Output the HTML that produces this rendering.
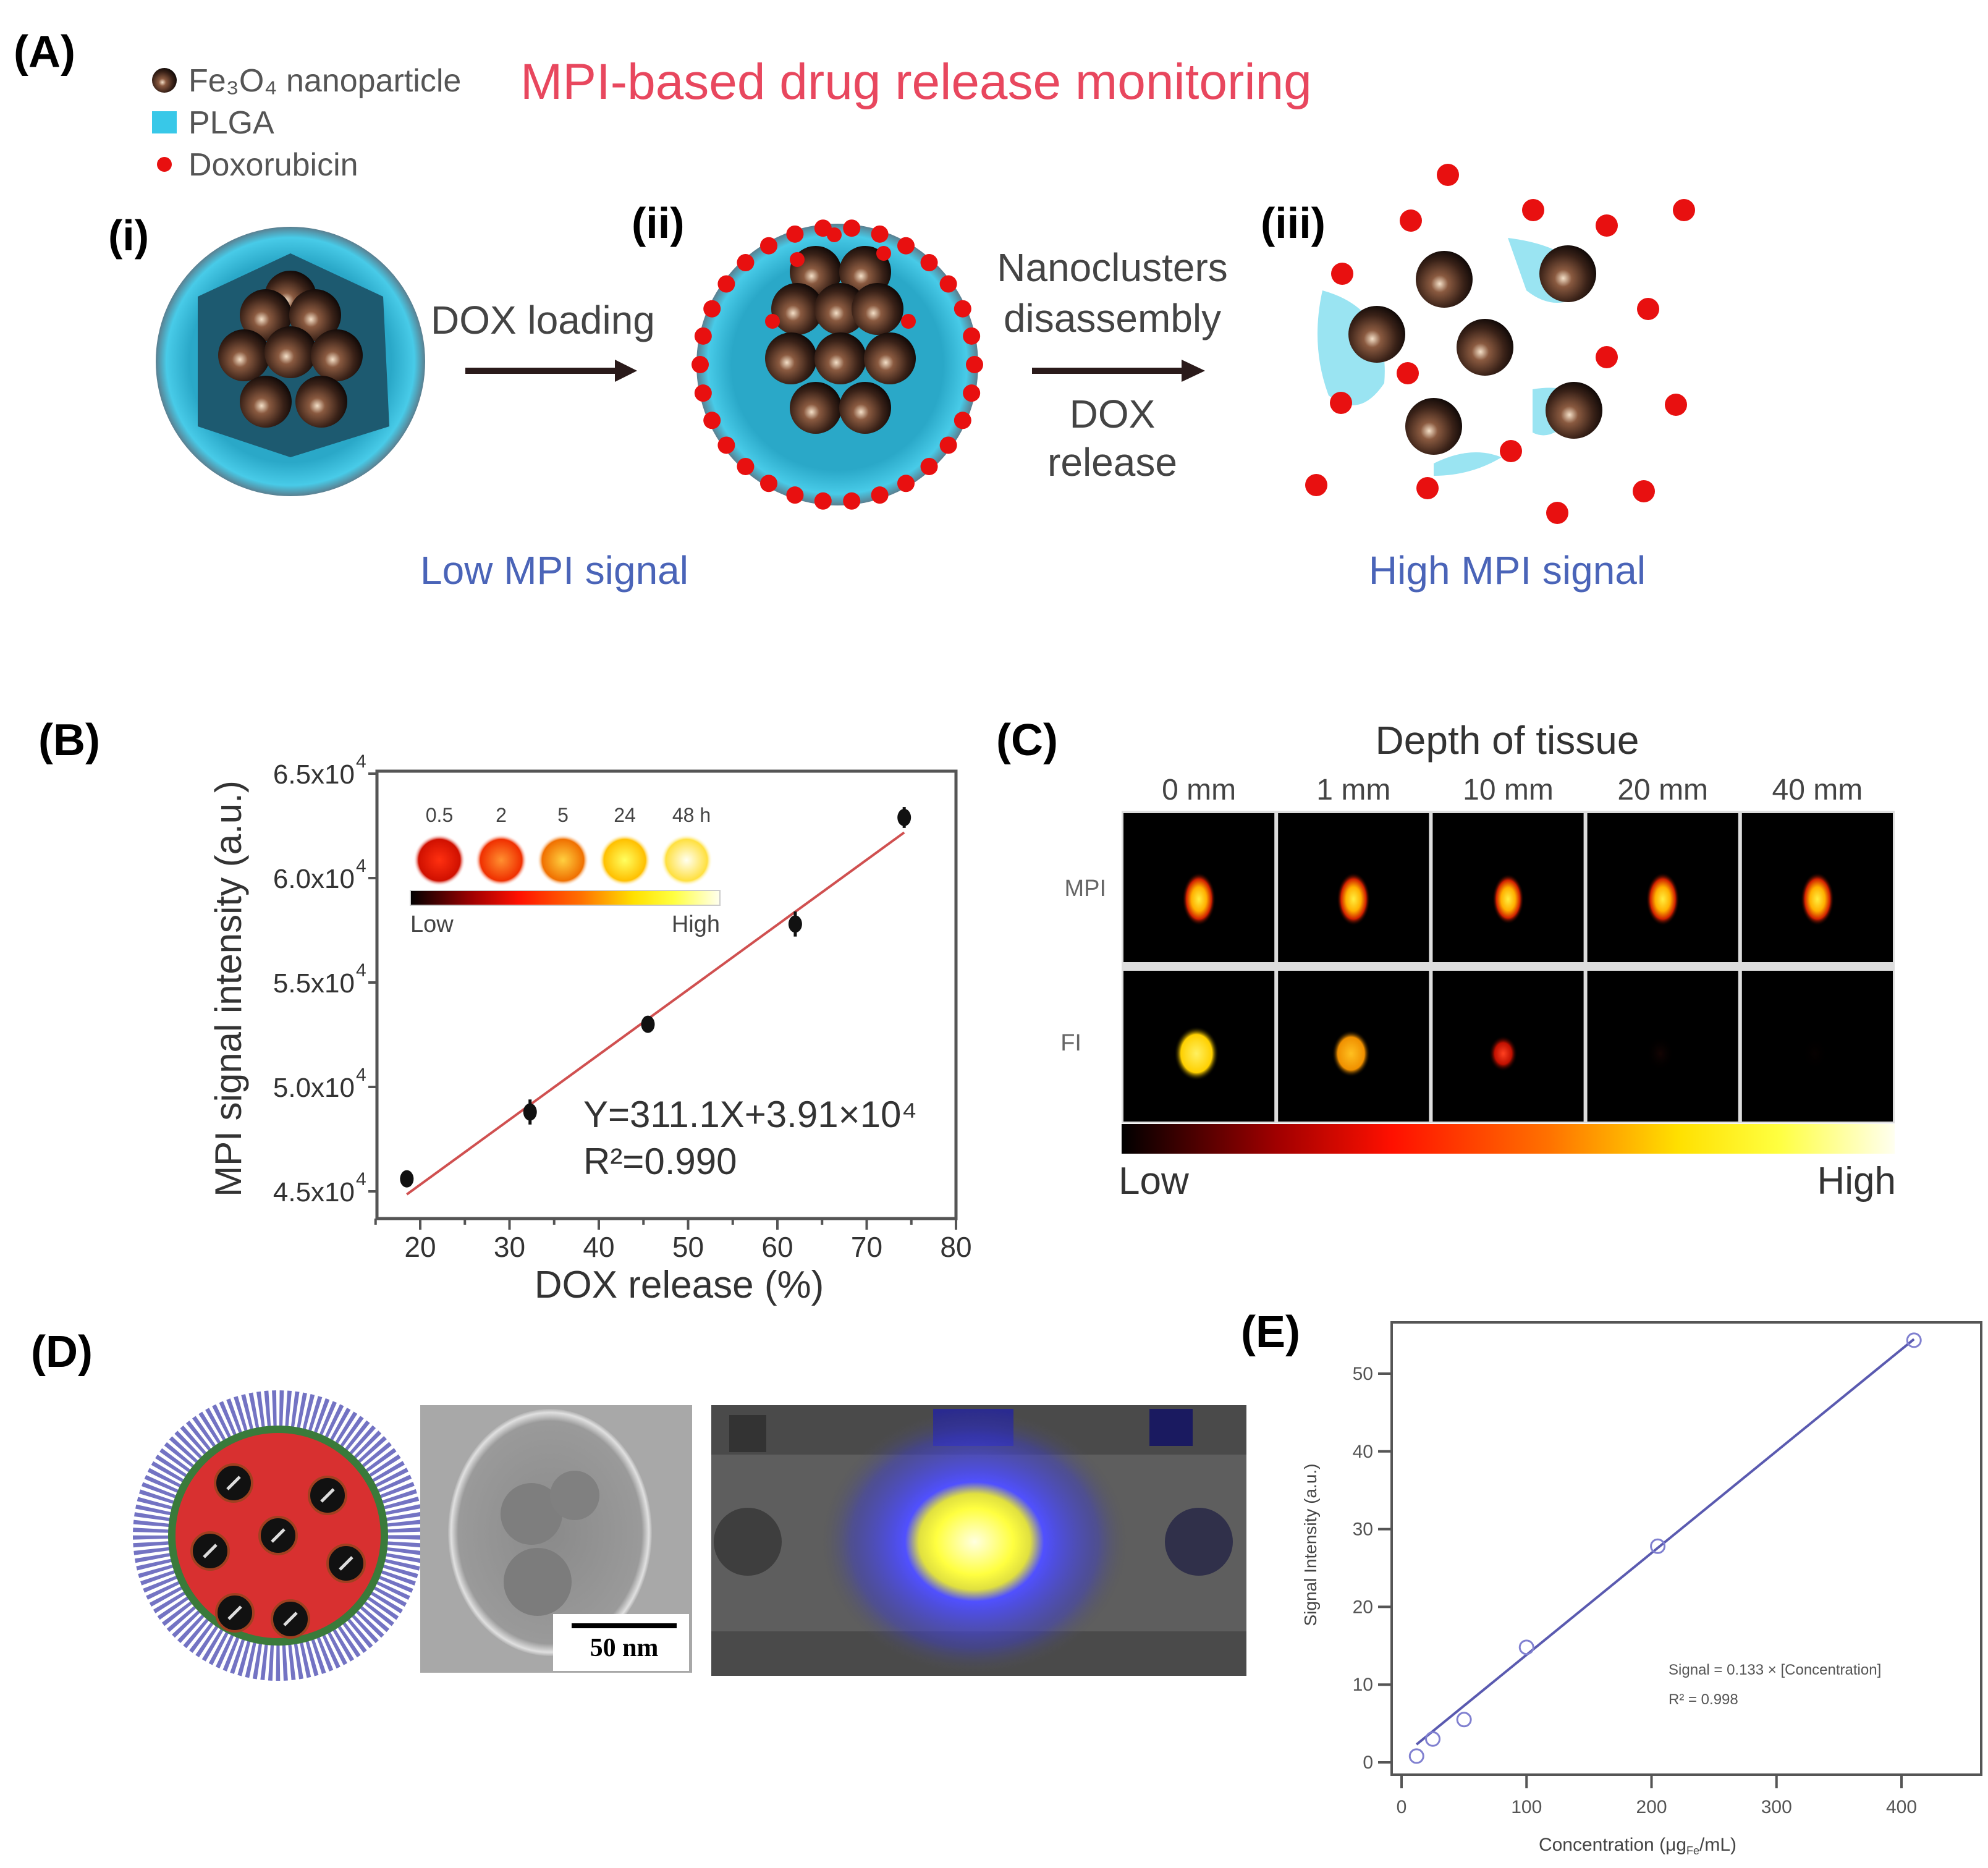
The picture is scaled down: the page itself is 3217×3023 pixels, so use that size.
<!DOCTYPE html>
<html><head><meta charset="utf-8"><style>
html,body{margin:0;padding:0;background:#fff;}
svg{display:block;font-family:"Liberation Sans",sans-serif;}
</style></head><body>
<svg id="fig" width="3217" height="3023" viewBox="0 0 3217 3023" xmlns="http://www.w3.org/2000/svg">
<defs>
<radialGradient id="ball" cx="0.42" cy="0.58" r="0.6"><stop offset="0" stop-color="#f4e0c8"/><stop offset="0.25" stop-color="#8a5a40"/><stop offset="0.7" stop-color="#3a2218"/><stop offset="1" stop-color="#120a08"/></radialGradient>
<radialGradient id="shell" cx="0.5" cy="0.5" r="0.5"><stop offset="0.75" stop-color="#2aa8c8"/><stop offset="0.92" stop-color="#48cbe8"/><stop offset="1" stop-color="#5a7f90"/></radialGradient>
<radialGradient id="spotMPI" cx="0.5" cy="0.5" r="0.5"><stop offset="0" stop-color="#ffee40"/><stop offset="0.45" stop-color="#ffb000"/><stop offset="0.75" stop-color="#d02000"/><stop offset="1" stop-color="#000" stop-opacity="0"/></radialGradient>
<radialGradient id="spotY" cx="0.5" cy="0.5" r="0.5"><stop offset="0" stop-color="#fff060"/><stop offset="0.7" stop-color="#ffd000"/><stop offset="1" stop-color="#000" stop-opacity="0"/></radialGradient>
<radialGradient id="spotO" cx="0.5" cy="0.5" r="0.5"><stop offset="0" stop-color="#ffc020"/><stop offset="0.7" stop-color="#f09000"/><stop offset="1" stop-color="#000" stop-opacity="0"/></radialGradient>
<radialGradient id="spotR" cx="0.5" cy="0.5" r="0.5"><stop offset="0" stop-color="#ff4020"/><stop offset="0.6" stop-color="#c01000"/><stop offset="1" stop-color="#000" stop-opacity="0"/></radialGradient>
<radialGradient id="spotD" cx="0.5" cy="0.5" r="0.5"><stop offset="0" stop-color="#3a0c08"/><stop offset="1" stop-color="#000" stop-opacity="0"/></radialGradient>
<linearGradient id="heat" x1="0" x2="1"><stop offset="0" stop-color="#000"/><stop offset="0.2" stop-color="#a00000"/><stop offset="0.35" stop-color="#ff1000"/><stop offset="0.55" stop-color="#ff7000"/><stop offset="0.72" stop-color="#ffe000"/><stop offset="0.85" stop-color="#ffff40"/><stop offset="1" stop-color="#fffff0"/></linearGradient>
<radialGradient id="c1" cx="0.5" cy="0.5" r="0.5"><stop offset="0" stop-color="#ff3010"/><stop offset="0.8" stop-color="#d01000"/><stop offset="1" stop-color="#fff" stop-opacity="0"/></radialGradient>
<radialGradient id="c2" cx="0.5" cy="0.5" r="0.5"><stop offset="0" stop-color="#ff9030"/><stop offset="0.8" stop-color="#f03000"/><stop offset="1" stop-color="#fff" stop-opacity="0"/></radialGradient>
<radialGradient id="c3" cx="0.5" cy="0.5" r="0.5"><stop offset="0" stop-color="#ffd040"/><stop offset="0.8" stop-color="#f07000"/><stop offset="1" stop-color="#fff" stop-opacity="0"/></radialGradient>
<radialGradient id="c4" cx="0.5" cy="0.5" r="0.5"><stop offset="0" stop-color="#ffff60"/><stop offset="0.8" stop-color="#ffc000"/><stop offset="1" stop-color="#fff" stop-opacity="0"/></radialGradient>
<radialGradient id="c5" cx="0.5" cy="0.5" r="0.5"><stop offset="0" stop-color="#fffff0"/><stop offset="0.8" stop-color="#ffe040"/><stop offset="1" stop-color="#fff" stop-opacity="0"/></radialGradient>
<radialGradient id="glow" cx="0.5" cy="0.5" r="0.5"><stop offset="0" stop-color="#ffffe0"/><stop offset="0.25" stop-color="#ffff40"/><stop offset="0.36" stop-color="#e0e040"/><stop offset="0.45" stop-color="#5050ff"/><stop offset="0.8" stop-color="#4040c0" stop-opacity="0.5"/><stop offset="1" stop-color="#555" stop-opacity="0"/></radialGradient>
<radialGradient id="tem" cx="0.5" cy="0.5" r="0.5"><stop offset="0" stop-color="#8a8a8a"/><stop offset="0.9" stop-color="#9a9a9a"/><stop offset="0.97" stop-color="#e0e0e0"/><stop offset="1" stop-color="#b0b0b0"/></radialGradient>
</defs>

<!-- Panel A -->
<g>
<text x="22" y="108" font-size="72" font-weight="bold">(A)</text>
<circle cx="266" cy="130" r="20" fill="url(#ball)"/>
<text x="305" y="148" font-size="52" fill="#555">Fe₃O₄ nanoparticle</text>
<rect x="246" y="180" width="40" height="36" fill="#38c8e8"/>
<text x="305" y="216" font-size="52" fill="#555">PLGA</text>
<circle cx="266" cy="266" r="12" fill="#e81010"/>
<text x="305" y="284" font-size="52" fill="#555">Doxorubicin</text>
<text x="842" y="160" font-size="82" fill="#e8475e">MPI-based drug release monitoring</text>
<text x="175" y="405" font-size="70" font-weight="bold">(i)</text>
<text x="1022" y="385" font-size="70" font-weight="bold">(ii)</text>
<text x="2040" y="385" font-size="70" font-weight="bold">(iii)</text>
<g>
<circle cx="470" cy="585" r="218" fill="url(#shell)"/>
<path d="M470 410 L620 480 L630 690 L470 740 L320 690 L320 480 Z" fill="#1d5a70"/>
<g id="ballsI"></g>
</g>
<text x="697" y="540" font-size="64" fill="#444">DOX loading</text>
<g><line x1="753" y1="600" x2="1000" y2="600" stroke="#2a1a1a" stroke-width="10"/><polygon points="995,582 1031,600 995,618" fill="#2a1a1a"/></g>
<g>
<circle cx="1355" cy="590" r="228" fill="url(#shell)"/>
<g id="ballsII"></g><g id="doxII"></g>
</g>
<g font-size="64" fill="#444" text-anchor="middle">
<text x="1800" y="455">Nanoclusters</text>
<text x="1800" y="537">disassembly</text>
<text x="1800" y="692">DOX</text>
<text x="1800" y="770">release</text>
</g>
<g><line x1="1670" y1="600" x2="1915" y2="600" stroke="#2a1a1a" stroke-width="10"/><polygon points="1912,582 1950,600 1912,618" fill="#2a1a1a"/></g>
<g id="stateIII">
<path d="M2140 470 Q2250 500 2240 620 Q2200 680 2150 640 Q2120 560 2140 470Z" fill="#9ae4f2"/>
<path d="M2440 385 Q2560 400 2570 470 Q2520 510 2470 470Z" fill="#9ae4f2"/>
<path d="M2480 630 Q2540 620 2560 650 Q2520 720 2480 700Z" fill="#9ae4f2"/>
<path d="M2320 750 Q2380 720 2430 740 Q2380 770 2320 770Z" fill="#9ae4f2"/>
</g>
<text x="897" y="945" font-size="64" fill="#4a64b8" text-anchor="middle">Low MPI signal</text>
<text x="2439" y="945" font-size="64" fill="#4a64b8" text-anchor="middle">High MPI signal</text>
</g>

<!-- Panel B -->
<g id="panelB">
<text x="62" y="1222" font-size="72" font-weight="bold">(B)</text>
<text transform="translate(390,1600) rotate(-90)" font-size="60" fill="#333" text-anchor="middle">MPI signal intensity (a.u.)</text>
<text x="1099" y="2100" font-size="62" fill="#333" text-anchor="middle">DOX release (%)</text>
<text x="944" y="1824" font-size="60" fill="#333">Y=311.1X+3.91×10⁴</text>
<text x="944" y="1900" font-size="60" fill="#333">R²=0.990</text>
<g>
<rect x="664" y="1441" width="501" height="24" fill="url(#heat)" stroke="#ccc" stroke-width="2"/>
<text x="664" y="1508" font-size="38" fill="#444">Low</text>
<text x="1165" y="1508" font-size="38" fill="#444" text-anchor="end">High</text>
</g>
<g id="bAxes"></g>
<g id="bMarks"></g>
<g id="bInset"></g>
</g>

<!-- Panel C -->
<g>
<text x="1612" y="1222" font-size="72" font-weight="bold">(C)</text>
<text x="2439" y="1220" font-size="64" fill="#333" text-anchor="middle">Depth of tissue</text>
<text x="1790" y="1450" font-size="38" fill="#666" text-anchor="end">MPI</text>
<text x="1750" y="1700" font-size="38" fill="#666" text-anchor="end">FI</text>
<g id="cGrid"></g>
<rect x="1815" y="1819" width="1251" height="48" fill="url(#heat)"/>
<text x="1810" y="1932" font-size="62" fill="#333">Low</text>
<text x="3068" y="1932" font-size="62" fill="#333" text-anchor="end">High</text>
</g>

<!-- Panel D -->
<g>
<text x="50" y="2212" font-size="72" font-weight="bold">(D)</text>
<g>
<circle cx="450" cy="2485" r="205" fill="none" stroke="#5a5ab8" stroke-width="60" stroke-dasharray="6 5" opacity="0.85"/>
<circle cx="450" cy="2485" r="172" fill="#d83030" stroke="#3a7a3a" stroke-width="12"/>
<g id="dDots"></g>
</g>
<g>
<rect x="680" y="2274" width="440" height="433" fill="#a8a8a8"/>
<ellipse cx="890" cy="2480" rx="165" ry="200" fill="url(#tem)"/>
<circle cx="860" cy="2450" r="50" fill="#7e7e7e"/><circle cx="930" cy="2420" r="40" fill="#808080"/><circle cx="870" cy="2560" r="55" fill="#7c7c7c"/>
<rect x="895" y="2612" width="220" height="92" fill="#fff"/>
<rect x="925" y="2627" width="170" height="8" fill="#000"/>
<text x="1010" y="2680" font-size="42" font-weight="bold" font-family="Liberation Serif,serif" text-anchor="middle">50 nm</text>
</g>
<g>
<rect x="1151" y="2274" width="866" height="438" fill="#5e5e5e"/>
<rect x="1151" y="2274" width="866" height="80" fill="#4a4a4a"/>
<rect x="1151" y="2640" width="866" height="72" fill="#4a4a4a"/>
<rect x="1180" y="2290" width="60" height="60" fill="#333"/><rect x="1510" y="2280" width="130" height="60" fill="#2a2a90"/><rect x="1860" y="2280" width="70" height="60" fill="#1a1a60"/>
<circle cx="1210" cy="2495" r="55" fill="#3e3e3e"/><circle cx="1940" cy="2495" r="55" fill="#30304a"/>
<ellipse cx="1577" cy="2495" rx="250" ry="215" fill="url(#glow)"/>
</g>
</g>

<!-- Panel E -->
<g id="panelE">
<text x="2008" y="2180" font-size="72" font-weight="bold">(E)</text>
<text transform="translate(2130,2500) rotate(-90)" font-size="28" fill="#444" text-anchor="middle">Signal Intensity (a.u.)</text>
<text x="2650" y="2995" font-size="30" fill="#444" text-anchor="middle">Concentration (μg<tspan font-size="18" dy="6">Fe</tspan><tspan dy="-6">/mL)</tspan></text>
<text x="2700" y="2710" font-size="24" fill="#555">Signal = 0.133 × [Concentration]</text>
<text x="2700" y="2758" font-size="24" fill="#555">R² = 0.998</text>
<g id="eAxes"></g>
<g id="eMarks"></g>
</g>
</svg>
<script>
// ---- Panel B data ----
const bXTicks = [20, 30, 40, 50, 60, 70, 80];
const bYTicks = [4.5, 5.0, 5.5, 6.0, 6.5];
const bYTickLabels = ["4.5x10", "5.0x10", "5.5x10", "6.0x10", "6.5x10"];
const bRelease = [18.5, 32.3, 45.5, 62.0, 74.2];
const bSignal = [4.56, 4.88, 5.30, 5.78, 6.29];
const bError = [0.04, 0.06, 0.04, 0.06, 0.05];
const bFitSlope = [0.03111];
const bFitIntercept = [3.91];
const bTimeLabels = ["0.5", "2", "5", "24", "48 h"];
// ---- Panel C data ----
const cDepths = ["0 mm", "1 mm", "10 mm", "20 mm", "40 mm"];
const cMPI = [0.9, 0.9, 0.85, 0.9, 0.9];
const cFI = [1.0, 0.8, 0.5, 0.1, 0.02];
// ---- Panel E data ----
const eXTicks = [0, 100, 200, 300, 400];
const eYTicks = [0, 10, 20, 30, 40, 50];
const eConc = [12, 25, 50, 100, 205, 410];
const eSignal = [0.8, 3.0, 5.5, 14.8, 27.8, 54.3];
const eFitSlope = [0.1335];
const eFitIntercept = [-0.3];

const NS = "http://www.w3.org/2000/svg";
function mk(parent, tag, attrs){const e=document.createElementNS(NS,tag);for(const k in attrs)e.setAttribute(k,attrs[k]);parent.appendChild(e);return e;}

// ---- Panel B ----
(function(){
const L=610,R=1547,T=1248,B=1972;
const bx=v=>680+(v-20)*14.45;
const by=v=>1928-(v-4.5)*338;
const ax=document.getElementById('bAxes');
const frame=mk(ax,'rect',{x:L,y:T,width:R-L,height:B-T,fill:'none',stroke:'#555','stroke-width':5});


for(let v=15;v<=80;v+=5){const major=v%10===0;const t=mk(ax,'line',{x1:bx(v),x2:bx(v),y1:B,y2:B+(major?18:10),stroke:'#555','stroke-width':4});

}
bXTicks.forEach(v=>{const t=mk(ax,'text',{x:bx(v),y:B+62,'font-size':46,fill:'#333','text-anchor':'middle'});t.textContent=v;

});
bYTicks.forEach((v,i)=>{const tk=mk(ax,'line',{x1:L-14,x2:L,y1:by(v),y2:by(v),stroke:'#555','stroke-width':4});


const t=mk(ax,'text',{x:L-36,y:by(v)+16,'font-size':44,fill:'#333','text-anchor':'end'});t.textContent=bYTickLabels[i];


const s=mk(ax,'text',{x:L-34,y:by(v)-10,'font-size':30,fill:'#333','text-anchor':'start'});s.textContent='4';

});
const m=document.getElementById('bMarks');
const x0=bRelease[0],x1=bRelease[bRelease.length-1];
const fit=mk(m,'line',{x1:bx(x0),y1:by(bFitSlope[0]*x0+bFitIntercept[0]),x2:bx(x1),y2:by(bFitSlope[0]*x1+bFitIntercept[0]),stroke:'#d05050','stroke-width':4});


bRelease.forEach((xv,i)=>{const eb=mk(m,'line',{x1:bx(xv),x2:bx(xv),y1:by(bSignal[i]-bError[i]),y2:by(bSignal[i]+bError[i]),stroke:'#111','stroke-width':5});


const p=mk(m,'ellipse',{cx:bx(xv),cy:by(bSignal[i]),rx:11,ry:14,fill:'#111'});

});
const ins=document.getElementById('bInset');
const grads=['c1','c2','c3','c4','c5'];
bTimeLabels.forEach((lab,i)=>{const cx=711+i*100;
const t=mk(ins,'text',{x:cx+(i===4?8:0),y:1330,'font-size':32,fill:'#444','text-anchor':'middle'});t.textContent=lab;


const c=mk(ins,'circle',{cx:cx,cy:1392,r:42,fill:'url(#'+grads[i]+')'});

});
})();

// ---- Panel C ----
(function(){
const g=document.getElementById('cGrid');
const X0=1815,W=250.2,rows=[[1316,241],[1571,244]];
const bg=mk(g,'rect',{x:X0,y:1312,width:1251,height:506,fill:'#ddd'});


const fiGrad=v=>v>0.9?'spotY':v>0.6?'spotO':v>0.3?'spotR':'spotD';
cDepths.forEach((d,i)=>{const x=X0+i*W;
const t=mk(g,'text',{x:x+W/2,y:1294,'font-size':48,fill:'#444','text-anchor':'middle'});t.textContent=d;


rows.forEach((r,j)=>{const cell=mk(g,'rect',{x:x+3,y:r[0],width:W-6,height:r[1],fill:'#000'});

});
const s=mk(g,'ellipse',{cx:x+W/2,cy:1455,rx:30*cMPI[i],ry:48*cMPI[i],fill:'url(#spotMPI)'});


const f=mk(g,'ellipse',{cx:x+W/2-(i===2?8:4),cy:1705,rx:10+26*Math.max(cFI[i],0.5),ry:14+30*Math.max(cFI[i],0.5),fill:'url(#'+fiGrad(cFI[i])+')',opacity:Math.min(1,cFI[i]*3+0.05)});

});
})();

// ---- Panel A decoration (balls & dots) ----
(function(){
const bi=document.getElementById('ballsI');
[[470,480],[430,510],[510,510],[395,575],[470,570],[545,575],[430,650],[520,650]].forEach(p=>{const c=mk(bi,'circle',{cx:p[0],cy:p[1],r:42,fill:'url(#ball)'});

});
const b2=document.getElementById('ballsII');
[[1320,440],[1400,440],[1290,500],[1360,500],[1420,500],[1280,580],[1360,580],[1440,580],[1320,660],[1400,660]].forEach(p=>{const c=mk(b2,'circle',{cx:p[0],cy:p[1],r:42,fill:'url(#ball)'});

});
const d2=document.getElementById('doxII');
for(let k=0;k<30;k++){const a=k/30*2*Math.PI;const c=mk(d2,'circle',{cx:1355+222*Math.cos(a),cy:590+222*Math.sin(a),r:14,fill:'#e81010'});

}
[[1350,380],[1290,420],[1430,410],[1250,520],[1470,520]].forEach(p=>{const c=mk(d2,'circle',{cx:p[0],cy:p[1],r:12,fill:'#e81010'});

});
const s3=document.getElementById('stateIII');
[[2337,452],[2537,443],[2228,541],[2403,562],[2320,690],[2547,664]].forEach(p=>{const c=mk(s3,'circle',{cx:p[0],cy:p[1],r:46,fill:'url(#ball)'});

});
[[2343,283],[2283,357],[2481,340],[2725,340],[2172,443],[2600,365],[2667,500],[2600,578],[2278,604],[2170,652],[2712,655],[2445,730],[2130,785],[2310,790],[2660,795],[2520,830]].forEach(p=>{const c=mk(s3,'circle',{cx:p[0],cy:p[1],r:18,fill:'#e81010'});

});
const dd=document.getElementById('dDots');
[[450,2485],[378,2400],[530,2420],[340,2510],[560,2530],[380,2610],[470,2620]].forEach(p=>{const c=mk(dd,'circle',{cx:p[0],cy:p[1],r:30,fill:'#111',stroke:'#a04020','stroke-width':4});


const l=mk(dd,'line',{x1:p[0]-10,y1:p[1]+10,x2:p[0]+10,y2:p[1]-10,stroke:'#ddd','stroke-width':5});

});
})();

// ---- Panel E ----
(function(){
const L=2252,R=3206,T=2140,B=2872;
const ex=v=>2268+v*2.0225;
const ey=v=>2852-v*12.58;
const ax=document.getElementById('eAxes');
const fr=mk(ax,'rect',{x:L,y:T,width:R-L,height:B-T,fill:'none',stroke:'#555','stroke-width':4});


eXTicks.forEach(v=>{const t=mk(ax,'line',{x1:ex(v),x2:ex(v),y1:B,y2:B+22,stroke:'#555','stroke-width':4});


const l=mk(ax,'text',{x:ex(v),y:B+62,'font-size':30,fill:'#555','text-anchor':'middle'});l.textContent=v;

});
eYTicks.forEach(v=>{const t=mk(ax,'line',{x1:L-22,x2:L,y1:ey(v),y2:ey(v),stroke:'#555','stroke-width':4});


const l=mk(ax,'text',{x:L-30,y:ey(v)+10,'font-size':30,fill:'#555','text-anchor':'end'});l.textContent=v;

});
const m=document.getElementById('eMarks');
const a=eConc[0],b=eConc[eConc.length-1];
const fl=mk(m,'line',{x1:ex(a),y1:ey(eFitSlope[0]*a+eFitIntercept[0]+1),x2:ex(b),y2:ey(eFitSlope[0]*b+eFitIntercept[0]),stroke:'#5a5ab0','stroke-width':4});


eConc.forEach((c,i)=>{const p=mk(m,'circle',{cx:ex(c),cy:ey(eSignal[i]),r:11,fill:'none',stroke:'#8080d0','stroke-width':3});

});
})();
</script>
</body></html>
